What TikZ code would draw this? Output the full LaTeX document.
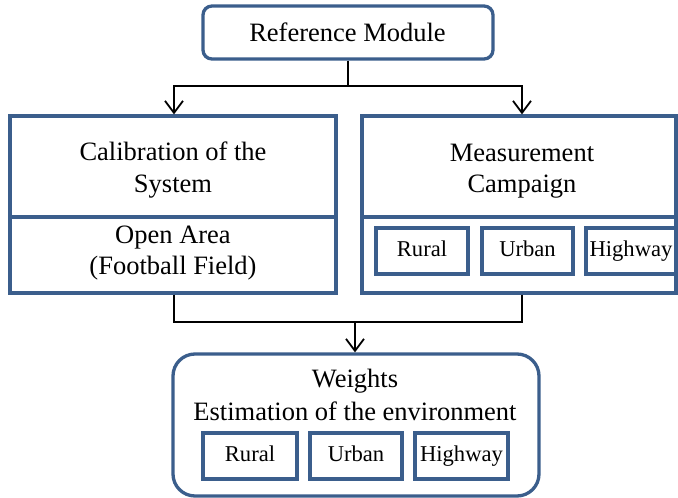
\documentclass[tikz,border=0pt]{standalone}
\usepackage{fontspec}
\setmainfont{Liberation Serif}
\usetikzlibrary{arrows.meta}
\definecolor{boxblue}{RGB}{59,94,140}
\begin{document}
\begin{tikzpicture}[x=1pt,y=-1pt,
  bluebox/.style={draw=boxblue,line width=3.3pt,fill=white,inner sep=0pt},
  roundbox/.style={bluebox,rounded corners=9pt},
  smallbox/.style={bluebox,font=\fontsize{22.6}{27}\selectfont,text height=15.5pt,text depth=4.5pt},
  lbl/.style={anchor=base,inner sep=0pt,font=\fontsize{26.5}{32}\selectfont},
  conn/.style={draw=black,line width=1.8pt},
  arr/.style={conn,-{Straight Barb[length=12pt,width=18pt,line width=1.8pt]}}]
\useasboundingbox (0,0) rectangle (678,498);
\fill[white] (0,0) rectangle (678,498);

% top module
\node[roundbox,minimum width=290pt,minimum height=53pt] (ref) at (348,32.5) {};
\node[lbl] (reft) at (347.5,41) {Reference Module};

% left block
\node[bluebox,minimum width=326pt,minimum height=101pt] (calibT) at (173,166.5) {};
\node[bluebox,minimum width=326pt,minimum height=76pt] (calibB) at (173,255) {};
\node[lbl] (c1) at (173,160) {Calibration of the};
\node[lbl] (c2) at (173,192) {System};
\node[lbl] (c3) at (173,243) {Open Area};
\node[lbl] (c4) at (173,274) {(Football Field)};

% right block
\node[bluebox,minimum width=314pt,minimum height=101pt] (measT) at (519,166.5) {};
\node[bluebox,minimum width=314pt,minimum height=76pt] (measB) at (519,255) {};
\node[lbl] (m1) at (522,161) {Measurement};
\node[lbl] (m2) at (522,192) {Campaign};
\node[smallbox,minimum width=92pt,minimum height=46pt] (r1) at (422,251) {Rural};
\node[smallbox,minimum width=91pt,minimum height=46pt] (u1) at (527.5,251) {Urban};
\node[smallbox,minimum width=90pt,minimum height=46pt] (h1) at (631,251) {Highway};

% bottom block
\node[roundbox,rounded corners=22pt,minimum width=366pt,minimum height=142pt] (wts) at (356,425) {};
\node[lbl] (w1) at (355,387) {Weights};
\node[lbl] (w2) at (355,420) {Estimation of the environment};
\node[smallbox,minimum width=94pt,minimum height=46pt] (r2) at (250,456) {Rural};
\node[smallbox,minimum width=92pt,minimum height=46pt] (u2) at (356,456) {Urban};
\node[smallbox,minimum width=93pt,minimum height=46pt] (h2) at (461.5,456) {Highway};

% connectors
\coordinate (j1) at (348,86);
\coordinate (j2) at (355,322);
\draw[conn] (ref.south) -- (j1);
\draw[arr] (j1) -| ([xshift=1pt]calibT.north);
\draw[arr] (j1) -| ([xshift=3pt]measT.north);
\draw[conn] ([xshift=1pt]calibB.south) |- (j2);
\draw[conn] ([xshift=3pt]measB.south) |- (j2);
\draw[arr] (j2) -- (j2 |- wts.north);
\end{tikzpicture}
\end{document}
